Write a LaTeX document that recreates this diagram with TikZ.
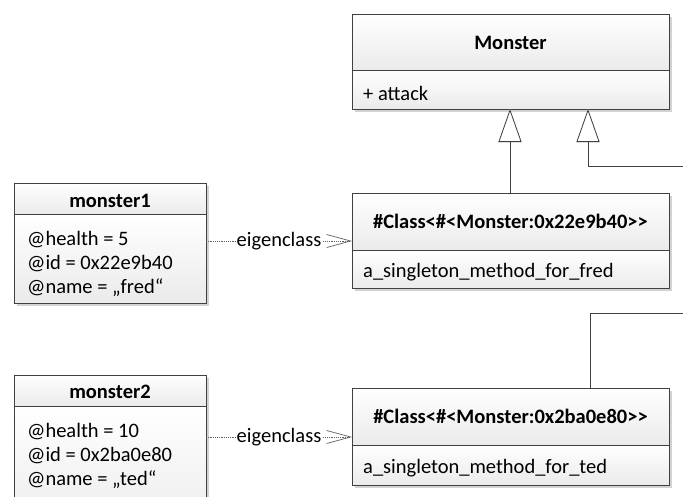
\documentclass[tikz,border=0pt]{standalone}
\usepackage{fontspec}
\setmainfont{Carlito}
\usetikzlibrary{arrows.meta,shadows}
\definecolor{edge}{HTML}{404040}
\definecolor{shadowgray}{HTML}{D2D2D2}
\definecolor{depgray}{HTML}{606060}
\begin{document}
\begin{tikzpicture}[x=1pt,y=-1pt,
  part/.style={draw=edge, line width=0.8pt, top color=white, bottom color=black!8,
    inner sep=0pt, outer sep=0pt, anchor=north west,
    drop shadow={shadow xshift=3pt, shadow yshift=-3pt, fill=shadowgray, opacity=1}},
  title/.style={font=\fontsize{20.5}{24}\selectfont\bfseries, anchor=base, inner sep=0pt},
  entry/.style={font=\fontsize{20.5}{24}\selectfont, anchor=base west, inner sep=0pt},
  lbl/.style={font=\fontsize{20.5}{24}\selectfont, fill=white, inner sep=1pt},
  conn/.style={draw=edge, line width=0.8pt},
  connshadow/.style={draw=shadowgray, line width=0.8pt, shift={(2,2)}},
  gen/.style={conn, -{Triangle[open, fill=white, length=33pt, width=23pt]}},
  genshadow/.style={connshadow, -{Triangle[open, length=33pt, width=23pt]}},
  dep/.style={draw=depgray, line width=0.7pt, dash pattern=on 1.2pt off 1pt,
    -{Straight Barb[length=24pt, width=13pt, line width=0.7pt]}}
]
\useasboundingbox (0,0) rectangle (683,496);
\clip (0,0) rectangle (683,496);
\fill[white] (0,0) rectangle (683,496);

% ---- class Monster
\node[part, minimum width=317pt, minimum height=56pt] (monsterH) at (352,14) {};
\node[part, minimum width=317pt, minimum height=39pt] (monsterB) at (monsterH.south west) {};
\node[title] (monsterT) at (510.5,49) {Monster};
\node[entry] (monsterA) at (363,100) {+ attack};

% ---- eigenclass of monster1
\node[part, minimum width=317pt, minimum height=57pt] (c1H) at (352,193) {};
\node[part, minimum width=317pt, minimum height=38pt] (c1B) at (c1H.south west) {};
\node[title] (c1T) at (510.5,228) {\#Class<{}\#<{}Monster:0x22e9b40>{}>};
\node[entry] (c1M) at (363,277) {a\_singleton\_method\_for\_fred};

% ---- eigenclass of monster2
\node[part, minimum width=317pt, minimum height=57pt] (c2H) at (352,388) {};
\node[part, minimum width=317pt, minimum height=40pt] (c2B) at (c2H.south west) {};
\node[title] (c2T) at (510.5,423) {\#Class<{}\#<{}Monster:0x2ba0e80>{}>};
\node[entry] (c2M) at (363,473) {a\_singleton\_method\_for\_ted};

% ---- object monster1
\node[part, minimum width=192pt, minimum height=31pt] (m1H) at (14,183) {};
\node[part, minimum width=192pt, minimum height=89pt] (m1B) at (m1H.south west) {};
\node[title] (m1T) at (110,207) {monster1};
\node[entry] (m1a) at (27,245) {@health = 5};
\node[entry] (m1b) at (27,269) {@id = 0x22e9b40};
\node[entry] (m1c) at (27,293) {@name = „fred“};

% ---- object monster2
\node[part, minimum width=192pt, minimum height=31pt] (m2H) at (14,375) {};
\node[part, minimum width=192pt, minimum height=130pt] (m2B) at (m2H.south west) {};
\node[title] (m2T) at (110,398) {monster2};
\node[entry] (m2a) at (27,437) {@health = 10};
\node[entry] (m2b) at (27,461) {@id = 0x2ba0e80};
\node[entry] (m2c) at (27,485) {@name = „ted“};

% ---- generalizations
\coordinate (tip1) at (510,109);
\coordinate (tip2) at (588,109);
\coordinate (offA) at (690,166);
\coordinate (up2) at (590,313);
\coordinate (offB) at (690,313);

\draw[genshadow] (c1H.north -| tip1) -- (tip1);
\draw[genshadow] (offA) -| (tip2);
\draw[connshadow] (c2H.north -| up2) |- (offB);
\draw[gen] (c1H.north -| tip1) -- (tip1);
\draw[gen] (offA) -| (tip2);
\draw[conn] (c2H.north -| up2) |- (offB);

% ---- eigenclass links
\coordinate (e1) at (0,241);
\coordinate (e2) at (0,437);
\draw[dep] (m1B.east |- e1) -- node[lbl] (e1L) {eigenclass} (c1H.west |- e1);
\draw[dep] (m2B.east |- e2) -- node[lbl] (e2L) {eigenclass} (c2H.west |- e2);
\end{tikzpicture}
\end{document}
